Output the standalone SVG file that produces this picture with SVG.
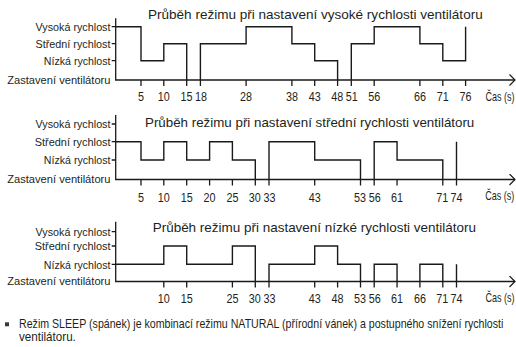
<svg xmlns="http://www.w3.org/2000/svg" width="516" height="347" viewBox="0 0 516 347">
<defs>
<marker id="arr" markerWidth="8" markerHeight="14" refX="6" refY="6" orient="auto" markerUnits="userSpaceOnUse">
<polyline points="0.5,0.5 6,6 0.5,11.5" fill="none" stroke="#1a1a1a" stroke-width="1.2"/>
</marker>
</defs>
<style>
text{font-family:"Liberation Sans",Arial,sans-serif;fill:#231f20}
.lbl{font-size:11.8px;text-anchor:end}
.ttl{font-size:13px}
.tk{font-size:12.3px;text-anchor:middle}
.cas{font-size:12px}
.ax{fill:none;stroke:#1a1a1a;stroke-width:1.3}
.wave{fill:none;stroke:#1a1a1a;stroke-width:1.4}
.note{font-size:12.5px}
</style>
<rect width="516" height="347" fill="#fff"/>

<!-- Chart 1 -->
<g id="chart1">
<text class="ttl" x="148" y="19" textLength="334.7" lengthAdjust="spacingAndGlyphs">Průběh režimu při nastavení vysoké rychlosti ventilátoru</text>
<text class="lbl" x="110.5" y="30.7" textLength="75" lengthAdjust="spacingAndGlyphs">Vysoká rychlost</text>
<text class="lbl" x="110.5" y="47.7" textLength="75" lengthAdjust="spacingAndGlyphs">Střední rychlost</text>
<text class="lbl" x="110.5" y="64.7" textLength="66.7" lengthAdjust="spacingAndGlyphs">Nízká rychlost</text>
<text class="lbl" x="110.5" y="83.8" textLength="103.3" lengthAdjust="spacingAndGlyphs">Zastavení ventilátoru</text>
<g class="ax">
<path d="M115.7,18.3 V80 H515" marker-end="url(#arr)"/>
<path d="M111.7,26.7 H115.7 M111.7,43.7 H115.7 M111.7,60.7 H115.7"/>
<path d="M141,80 v6 M163.8,80 v6 M186.7,80 v6 M200.4,80 v6 M246.1,80 v6 M291.9,80 v6 M314.7,80 v6 M337.6,80 v6 M351.3,80 v6 M374.2,80 v6 M419.9,80 v6 M442.8,80 v6 M465.6,80 v6"/>
</g>
<g class="tk">
<text x="141" y="101" textLength="6" lengthAdjust="spacingAndGlyphs">5</text><text x="163.8" y="101" textLength="12" lengthAdjust="spacingAndGlyphs">10</text><text x="186.4" y="101" textLength="12" lengthAdjust="spacingAndGlyphs">15</text><text x="200.9" y="101" textLength="12" lengthAdjust="spacingAndGlyphs">18</text><text x="246.1" y="101" textLength="12" lengthAdjust="spacingAndGlyphs">28</text><text x="291.9" y="101" textLength="12" lengthAdjust="spacingAndGlyphs">38</text><text x="314.7" y="101" textLength="12" lengthAdjust="spacingAndGlyphs">43</text><text x="337.3" y="101" textLength="12" lengthAdjust="spacingAndGlyphs">48</text><text x="351.8" y="101" textLength="12" lengthAdjust="spacingAndGlyphs">51</text><text x="374.2" y="101" textLength="12" lengthAdjust="spacingAndGlyphs">56</text><text x="419.9" y="101" textLength="12" lengthAdjust="spacingAndGlyphs">66</text><text x="442.8" y="101" textLength="12" lengthAdjust="spacingAndGlyphs">71</text><text x="465.6" y="101" textLength="12" lengthAdjust="spacingAndGlyphs">76</text>
</g>
<text class="cas" transform="translate(485.5,100.5) scale(0.75,1)">Čas (s)</text>
<path class="wave" d="M115.7,26.7 H141 V60.7 H163.8 V43.7 H186.7 V80 M200.4,80 V43.7 H246.1 V26.7 H291.9 V43.7 H314.7 V60.7 H337.6 V80 M351.3,80 V43.7 H374.2 V26.7 H419.9 V43.7 H442.8 V60.7 H465.6 V26.7"/>
</g>

<!-- Chart 2 -->
<g id="chart2">
<text class="ttl" x="145" y="127.3" textLength="329.3" lengthAdjust="spacingAndGlyphs">Průběh režimu při nastavení střední rychlosti ventilátoru</text>
<text class="lbl" x="110.5" y="128.2" textLength="75" lengthAdjust="spacingAndGlyphs">Vysoká rychlost</text>
<text class="lbl" x="110.5" y="145.9" textLength="75.7" lengthAdjust="spacingAndGlyphs">Střední rychlost</text>
<text class="lbl" x="110.5" y="164.2" textLength="66.7" lengthAdjust="spacingAndGlyphs">Nízká rychlost</text>
<text class="lbl" x="110.5" y="183.3" textLength="103.3" lengthAdjust="spacingAndGlyphs">Zastavení ventilátoru</text>
<g class="ax">
<path d="M115.7,115 V179.5 H515" marker-end="url(#arr)"/>
<path d="M111.7,124 H115.7 M111.7,141.7 H115.7 M111.7,160 H115.7"/>
<path d="M141,179.5 v6 M163.8,179.5 v6 M186.7,179.5 v6 M209.6,179.5 v6 M232.4,179.5 v6 M255.3,179.5 v6 M269,179.5 v6 M314.7,179.5 v6 M360.5,179.5 v6 M374.2,179.5 v6 M397.05,179.5 v6 M442.8,179.5 v6 M456.5,179.5 v6"/>
</g>
<g class="tk">
<text x="141" y="201.5" textLength="6" lengthAdjust="spacingAndGlyphs">5</text><text x="163.8" y="201.5" textLength="12" lengthAdjust="spacingAndGlyphs">10</text><text x="186.7" y="201.5" textLength="12" lengthAdjust="spacingAndGlyphs">15</text><text x="209.6" y="201.5" textLength="12" lengthAdjust="spacingAndGlyphs">20</text><text x="232.4" y="201.5" textLength="12" lengthAdjust="spacingAndGlyphs">25</text><text x="254.8" y="201.5" textLength="12" lengthAdjust="spacingAndGlyphs">30</text><text x="269.5" y="201.5" textLength="12" lengthAdjust="spacingAndGlyphs">33</text><text x="314.7" y="201.5" textLength="12" lengthAdjust="spacingAndGlyphs">43</text><text x="360" y="201.5" textLength="12" lengthAdjust="spacingAndGlyphs">53</text><text x="374.7" y="201.5" textLength="12" lengthAdjust="spacingAndGlyphs">56</text><text x="397.05" y="201.5" textLength="12" lengthAdjust="spacingAndGlyphs">61</text><text x="442.3" y="201.5" textLength="12" lengthAdjust="spacingAndGlyphs">71</text><text x="456.5" y="201.5" textLength="12" lengthAdjust="spacingAndGlyphs">74</text>
</g>
<text class="cas" transform="translate(485.3,199.5) scale(0.75,1)">Čas (s)</text>
<path class="wave" d="M115.7,141.7 H141 V160 H163.8 V141.7 H186.7 V160 H209.6 V141.7 H232.4 V160 H255.3 V179.5 M269,179.5 V141.7 H314.7 V160 H360.5 V179.5 M374.2,179.5 V141.7 H397.05 V160 H442.8 V179.5 M456.5,179.5 V141.7"/>
</g>

<!-- Chart 3 -->
<g id="chart3">
<text class="ttl" x="152.7" y="231.5" textLength="323.3" lengthAdjust="spacingAndGlyphs">Průběh režimu při nastavení nízké rychlosti ventilátoru</text>
<text class="lbl" x="110.5" y="235.9" textLength="75" lengthAdjust="spacingAndGlyphs">Vysoká rychlost</text>
<text class="lbl" x="110.5" y="250.2" textLength="75.7" lengthAdjust="spacingAndGlyphs">Střední rychlost</text>
<text class="lbl" x="110.5" y="268.5" textLength="66.7" lengthAdjust="spacingAndGlyphs">Nízká rychlost</text>
<text class="lbl" x="110.5" y="285.3" textLength="103.3" lengthAdjust="spacingAndGlyphs">Zastavení ventilátoru</text>
<g class="ax">
<path d="M115.7,221.7 V281.5 H515" marker-end="url(#arr)"/>
<path d="M111.7,231.7 H115.7 M111.7,246 H115.7 M111.7,264.3 H115.7"/>
<path d="M163.8,281.5 v6 M186.7,281.5 v6 M232.4,281.5 v6 M255.3,281.5 v6 M269,281.5 v6 M314.7,281.5 v6 M337.6,281.5 v6 M360.5,281.5 v6 M374.2,281.5 v6 M397.05,281.5 v6 M419.9,281.5 v6 M442.8,281.5 v6 M456.5,281.5 v6"/>
</g>
<g class="tk">
<text x="163.8" y="302.7" textLength="12" lengthAdjust="spacingAndGlyphs">10</text><text x="186.7" y="302.7" textLength="12" lengthAdjust="spacingAndGlyphs">15</text><text x="232.4" y="302.7" textLength="12" lengthAdjust="spacingAndGlyphs">25</text><text x="254.8" y="302.7" textLength="12" lengthAdjust="spacingAndGlyphs">30</text><text x="269.5" y="302.7" textLength="12" lengthAdjust="spacingAndGlyphs">33</text><text x="314.7" y="302.7" textLength="12" lengthAdjust="spacingAndGlyphs">43</text><text x="337.6" y="302.7" textLength="12" lengthAdjust="spacingAndGlyphs">48</text><text x="360" y="302.7" textLength="12" lengthAdjust="spacingAndGlyphs">53</text><text x="374.7" y="302.7" textLength="12" lengthAdjust="spacingAndGlyphs">56</text><text x="397.05" y="302.7" textLength="12" lengthAdjust="spacingAndGlyphs">61</text><text x="419.9" y="302.7" textLength="12" lengthAdjust="spacingAndGlyphs">66</text><text x="442.3" y="302.7" textLength="12" lengthAdjust="spacingAndGlyphs">71</text><text x="456.5" y="302.7" textLength="12" lengthAdjust="spacingAndGlyphs">74</text>
</g>
<text class="cas" transform="translate(485.5,301.5) scale(0.75,1)">Čas (s)</text>
<path class="wave" d="M115.7,264.3 H163.8 V246 H186.7 V264.3 H232.4 V246 H255.3 V281.5 M269,281.5 V264.3 H314.7 V246 H337.6 V264.3 H360.5 V281.5 M374.2,281.5 V264.3 H397.05 V281.5 M419.9,281.5 V264.3 H442.8 V281.5 M456.5,281.5 V264.3"/>
</g>

<!-- Note -->
<g id="note">
<rect x="5" y="322.3" width="4" height="4" fill="#3a3a3a"/>
<text class="note" transform="translate(19,327.6) scale(0.85,1)">Režim SLEEP (spánek) je kombinací režimu NATURAL (přírodní vánek) a postupného snížení rychlosti</text>
<text class="note" transform="translate(19,340.8) scale(0.93,1)">ventilátoru.</text>
</g>
</svg>
